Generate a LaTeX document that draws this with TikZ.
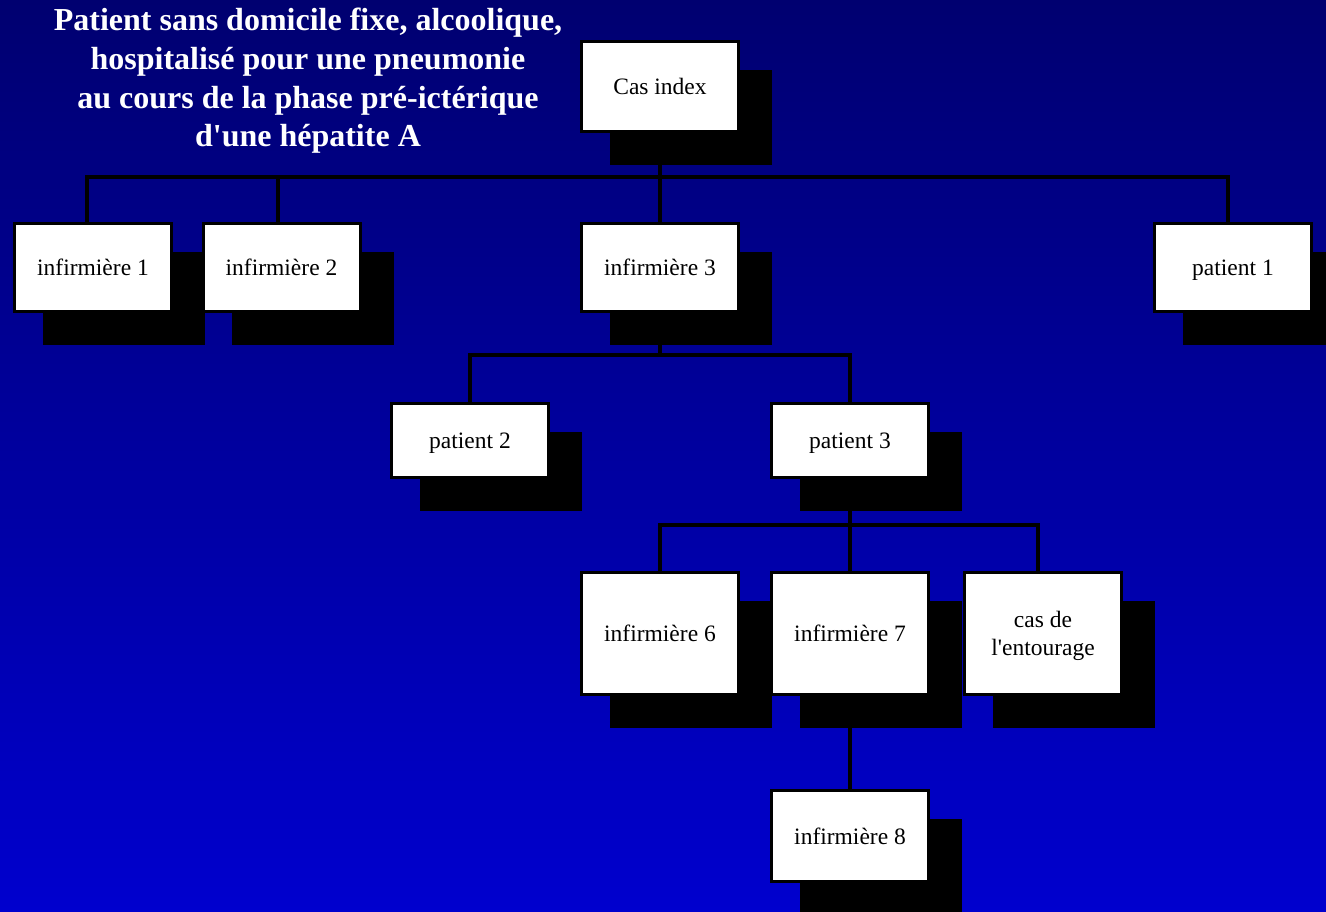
\documentclass[tikz,border=0pt]{standalone}
\usepackage{fontspec}
\setmainfont{Liberation Serif}
\usetikzlibrary{shadows}
\definecolor{bgtop}{RGB}{0,0,112}
\definecolor{bgbot}{RGB}{0,0,206}
\pgfdeclarelayer{bg}
\pgfdeclarelayer{conn}
\pgfsetlayers{bg,conn,main}
\tikzset{
  orgbox/.style={draw=black, fill=white, line width=3pt, inner sep=0pt,
    minimum width=157pt, align=center, text depth=0pt,
    font=\fontsize{23.5}{28}\selectfont,
    drop shadow={shadow xshift=31pt, shadow yshift=-31pt, fill=black, draw=black, line width=5pt, opacity=1, shadow scale=1}},
  link/.style={draw=black, line width=4pt}
}
\begin{document}
\begin{tikzpicture}[x=1pt, y=-1pt]
\useasboundingbox (0,0) rectangle (1326,911);
\begin{pgfonlayer}{bg}
\shade[top color=bgtop, bottom color=bgbot] (0,0) rectangle (1326,911);
\end{pgfonlayer}

\node[white, font=\bfseries\fontsize{32}{38.6}\selectfont, align=center] (title) at (308,81)
  {Patient sans domicile fixe, alcoolique,\\hospitalisé pour une pneumonie\\au cours de la phase pré-ictérique\\d\textquotesingle une hépatite A};

\node[orgbox, minimum height=90pt] (cas) at (660,86.5) {Cas index};
\node[orgbox, minimum height=88pt] (inf1) at (93,267.5) {infirmière 1};
\node[orgbox, minimum height=88pt] (inf2) at (281.5,267.5) {infirmière 2};
\node[orgbox, minimum height=88pt] (inf3) at (660,267.5) {infirmière 3};
\node[orgbox, minimum height=88pt] (pat1) at (1233,267.5) {patient 1};
\node[orgbox, minimum height=74pt] (pat2) at (470,440.5) {patient 2};
\node[orgbox, minimum height=74pt] (pat3) at (850,440.5) {patient 3};
\node[orgbox, minimum height=122pt] (inf6) at (660,633.5) {infirmière 6};
\node[orgbox, minimum height=122pt] (inf7) at (850,633.5) {infirmière 7};
\node[orgbox, minimum height=122pt] (ent) at (1043,633.5) {cas de\\l\textquotesingle entourage};
\node[orgbox, minimum height=91pt] (inf8) at (850,836) {infirmière 8};

\coordinate (bus1) at (0,177);
\coordinate (bus2) at (0,355);
\coordinate (bus3) at (0,525);

\begin{pgfonlayer}{conn}
\draw[link] (cas.south) -- (inf3.north);
\draw[link] ([xshift=-6pt]inf1.north) |- ([xshift=-5pt]pat1.north |- bus1) -- ([xshift=-5pt]pat1.north);
\draw[link] ([xshift=-4pt]inf2.north) -- ([xshift=-4pt]inf2.north |- bus1);
\draw[link] (inf3.south) -- (inf3.south |- bus2);
\draw[link] (pat2.north) |- (pat3.north |- bus2) -- (pat3.north);
\draw[link] (pat3.south) -- (inf7.north);
\draw[link] (inf6.north) |- ([xshift=-5pt]ent.north |- bus3) -- ([xshift=-5pt]ent.north);
\draw[link] (inf7.south) -- (inf8.north);
\end{pgfonlayer}
\end{tikzpicture}
\end{document}
